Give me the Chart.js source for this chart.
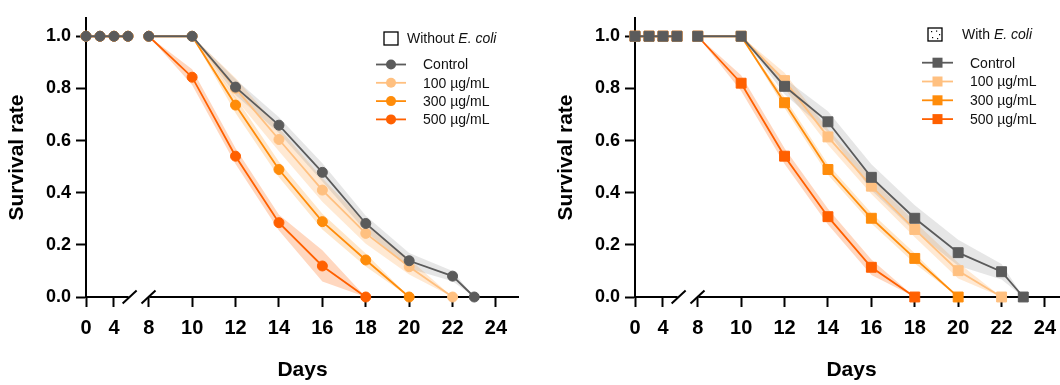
<!DOCTYPE html>
<html>
<head>
<meta charset="utf-8">
<script src="https://cdn.jsdelivr.net/npm/chart.js@4"></script>
<style>
  html, body { margin: 0; padding: 0; background: #fff; overflow: hidden; width: 1060px; height: 385px; }
  .panel { position: absolute; top: 0; width: 530px; height: 385px; }
</style>
</head>
<body>
<div class="panel" style="left:0"><canvas id="leftChart"></canvas></div>
<div class="panel" style="left:549px"><canvas id="rightChart"></canvas></div>
<script>
// days sampled, same for every series (null = series already ended)
const days = [0, 2, 4, 6, 8, 10, 12, 14, 16, 18, 20, 22, 23];
const tickDays = [0, 4, 8, 10, 12, 14, 16, 18, 20, 22, 24];
const seriesNames = ['Control', '100 µg/mL', '300 µg/mL', '500 µg/mL'];
const seriesColors = ['#5b5b5b', '#ffc080', '#ff8c0a', '#ff6000'];
const bandColors = ['rgba(140,140,140,0.22)', 'rgba(255,192,128,0.35)', 'rgba(255,140,10,0.22)', 'rgba(255,96,0,0.25)'];

// Without E. coli
const ctrlNo  = [1, 1, 1, 1, 1, 1,     0.805, 0.659, 0.478, 0.282, 0.139, 0.080, 0];
const low100No = [1, 1, 1, 1, 1, 1,    0.800, 0.604, 0.410, 0.244, 0.116, 0, null];
const mid300No = [1, 1, 1, 1, 1, 1,    0.736, 0.489, 0.289, 0.142, 0, null, null];
const high500No = [1, 1, 1, 1, 1, 0.843, 0.540, 0.285, 0.119, 0, null, null, null];
const ctrlNoErr  = [0, 0, 0, 0, 0, 0,    0.03, 0.03, 0.035, 0.03, 0.03, 0.02, 0];
const low100NoErr = [0, 0, 0, 0, 0, 0,   0.04, 0.045, 0.045, 0.04, 0.03, 0, null];
const mid300NoErr = [0, 0, 0, 0, 0, 0,   0.03, 0.03, 0.03, 0.025, 0, null, null];
const high500NoErr = [0, 0, 0, 0, 0, 0.03, 0.03, 0.03, 0.06, 0, null, null, null];

// With E. coli
const ctrlWith  = [1, 1, 1, 1, 1, 1,     0.808, 0.672, 0.459, 0.302, 0.170, 0.097, 0];
const low100With = [1, 1, 1, 1, 1, 1,    0.830, 0.614, 0.425, 0.259, 0.101, 0, null];
const mid300With = [1, 1, 1, 1, 1, 1,    0.745, 0.489, 0.302, 0.148, 0, null, null];
const high500With = [1, 1, 1, 1, 1, 0.820, 0.540, 0.308, 0.114, 0, null, null, null];
const ctrlWithErr  = [0, 0, 0, 0, 0, 0,    0.03, 0.04, 0.05, 0.05, 0.05, 0.03, 0];
const low100WithErr = [0, 0, 0, 0, 0, 0,   0.03, 0.03, 0.03, 0.03, 0.03, 0, null];
const mid300WithErr = [0, 0, 0, 0, 0, 0,   0.02, 0.02, 0.02, 0.02, 0, null, null];
const high500WithErr = [0, 0, 0, 0, 0, 0.03, 0.03, 0.03, 0.03, 0, null, null, null];

// broken x axis: days 0-6 are squeezed in front of day 8
const U0 = 5.11, USCALE = 0.3225, UMAX = 25.06;
const BREAK_A = 7.12, BREAK_B = 7.99;
function toU(d) { return d <= 6 ? U0 + d * USCALE : d; }

const FONT = '"Liberation Sans", Arial, sans-serif';

function makePoints(vals, err, sign) {
    const pts = [];
    days.forEach((d, i) => {
        if (vals[i] === null) return;
        if (d === 8) pts.push({ x: toU(7), y: null });
        let y = vals[i];
        if (err) y = Math.max(0, y + sign * err[i]);
        pts.push({ x: toU(d), y: y });
    });
    return pts;
}

// x axis line with the break marks
const brokenAxis = {
    id: 'brokenAxis',
    beforeDatasetsDraw(chart) {
        const ctx = chart.ctx;
        const xs = chart.scales.x;
        const y0 = chart.chartArea.bottom;
        const a = xs.getPixelForValue(BREAK_A);
        const b = xs.getPixelForValue(BREAK_B);
        ctx.save();
        ctx.strokeStyle = '#000';
        ctx.lineWidth = 2;
        ctx.beginPath();
        ctx.moveTo(chart.chartArea.left - 1, y0);
        ctx.lineTo(a - 1, y0);
        ctx.moveTo(b + 1, y0);
        ctx.lineTo(chart.chartArea.right, y0);
        ctx.stroke();
        [a, b].forEach(p => {
            ctx.beginPath();
            ctx.moveTo(p - 7, y0 + 6.5);
            ctx.lineTo(p + 7, y0 - 6.5);
            ctx.stroke();
        });
        ctx.restore();
    }
};

// legend drawn inside the plot
const innerLegend = {
    id: 'innerLegend',
    afterDraw(chart, args, o) {
        const ctx = chart.ctx;
        ctx.save();
        // header box
        ctx.strokeStyle = '#000';
        ctx.lineWidth = 1.3;
        ctx.strokeRect(o.boxX, o.boxY, 14, 13);
        if (o.dotted) {
            ctx.fillStyle = '#000';
            [[3, 3], [8, 2.5], [11, 6], [4, 9], [9, 10]].forEach(p => {
                ctx.fillRect(o.boxX + p[0], o.boxY + p[1], 1.2, 1.2);
            });
        }
        ctx.fillStyle = '#111';
        ctx.textBaseline = 'middle';
        ctx.font = '14px ' + FONT;
        ctx.fillText(o.head, o.headX, o.boxY + 7);
        const w = ctx.measureText(o.head).width;
        ctx.font = 'italic 14px ' + FONT;
        ctx.fillText('E. coli', o.headX + w, o.boxY + 7);
        // series rows
        ctx.font = '14px ' + FONT;
        seriesNames.forEach((name, i) => {
            const y = o.rowY + i * o.rowGap;
            ctx.strokeStyle = seriesColors[i];
            ctx.lineWidth = 1.8;
            ctx.beginPath();
            ctx.moveTo(o.lineX1, y);
            ctx.lineTo(o.lineX2, y);
            ctx.stroke();
            ctx.fillStyle = seriesColors[i];
            const mx = (o.lineX1 + o.lineX2) / 2;
            if (o.square) {
                ctx.fillRect(mx - 5, y - 5, 10, 10);
            } else {
                ctx.beginPath();
                ctx.arc(mx, y, 5, 0, Math.PI * 2);
                ctx.fill();
            }
            ctx.fillStyle = '#111';
            ctx.fillText(name, o.textX, y + 1);
        });
        ctx.restore();
    }
};

function buildChart(canvasId, series, errs, pointStyle, radius, legendOpts) {
    const datasets = [];
    series.forEach((vals, i) => {
        datasets.push({
            label: seriesNames[i],
            data: makePoints(vals),
            borderColor: seriesColors[i],
            backgroundColor: seriesColors[i],
            borderWidth: 1.8,
            pointStyle: pointStyle,
            pointRadius: radius,
            pointBorderWidth: 1,
            pointBorderColor: seriesColors[i],
            spanGaps: false,
            clip: false,
            order: i
        });
    });
    series.forEach((vals, i) => {
        datasets.push({
            data: makePoints(vals, errs[i], 1),
            borderWidth: 0, pointRadius: 0, fill: false, spanGaps: false, order: 10 + i
        });
        datasets.push({
            data: makePoints(vals, errs[i], -1),
            borderWidth: 0, pointRadius: 0, fill: '-1', backgroundColor: bandColors[i],
            spanGaps: false, order: 10 + i
        });
    });

    return new Chart(document.getElementById(canvasId), {
        type: 'line',
        data: { datasets: datasets },
        plugins: [brokenAxis, innerLegend],
        options: {
            responsive: true,
            maintainAspectRatio: false,
            animation: false,
            layout: { padding: { top: 18, right: 11, left: 0, bottom: 0 } },
            scales: {
                x: {
                    type: 'linear',
                    min: U0,
                    max: UMAX,
                    afterFit: s => { s.height = 88; },
                    afterBuildTicks: s => { s.ticks = tickDays.map(d => ({ value: toU(d) })); },
                    border: { display: false },
                    grid: { drawOnChartArea: false, drawTicks: true, tickLength: 10, tickWidth: 2, tickColor: '#000' },
                    ticks: {
                        autoSkip: false, maxRotation: 0, padding: 9, color: '#000',
                        font: { family: FONT, size: 20, weight: 'bold' },
                        callback: (v, i) => String(tickDays[i])
                    },
                    title: {
                        display: true, text: 'Days', color: '#000',
                        font: { family: FONT, size: 21, weight: 'bold' },
                        padding: { top: 0, bottom: 2 }
                    }
                },
                y: {
                    min: 0,
                    max: 1.07,
                    afterFit: s => { s.width = 86; },
                    border: { display: true, color: '#000', width: 2 },
                    grid: { drawOnChartArea: false, drawTicks: true, tickLength: 10, tickWidth: 2, tickColor: '#000' },
                    ticks: {
                        stepSize: 0.2, includeBounds: false, padding: 5, color: '#000',
                        font: { family: FONT, size: 18, weight: 'bold' },
                        callback: v => v.toFixed(1)
                    },
                    title: {
                        display: true, text: 'Survival rate', color: '#000',
                        font: { family: FONT, size: 21, weight: 'bold' },
                        padding: { top: 5, bottom: 0 }
                    }
                }
            },
            plugins: {
                legend: { display: false },
                tooltip: { enabled: false },
                innerLegend: legendOpts
            }
        }
    });
}

buildChart('leftChart',
    [ctrlNo, low100No, mid300No, high500No],
    [ctrlNoErr, low100NoErr, mid300NoErr, high500NoErr],
    'circle', 5,
    { head: 'Without ', boxX: 384, boxY: 32, headX: 407, rowY: 64.5, rowGap: 18.3,
      lineX1: 376, lineX2: 406, textX: 423, square: false, dotted: false });

buildChart('rightChart',
    [ctrlWith, low100With, mid300With, high500With],
    [ctrlWithErr, low100WithErr, mid300WithErr, high500WithErr],
    'rect', 7,
    { head: 'With ', boxX: 379, boxY: 28, headX: 413, rowY: 62.7, rowGap: 18.8,
      lineX1: 373, lineX2: 404, textX: 421, square: true, dotted: true });
</script>
</body>
</html>
